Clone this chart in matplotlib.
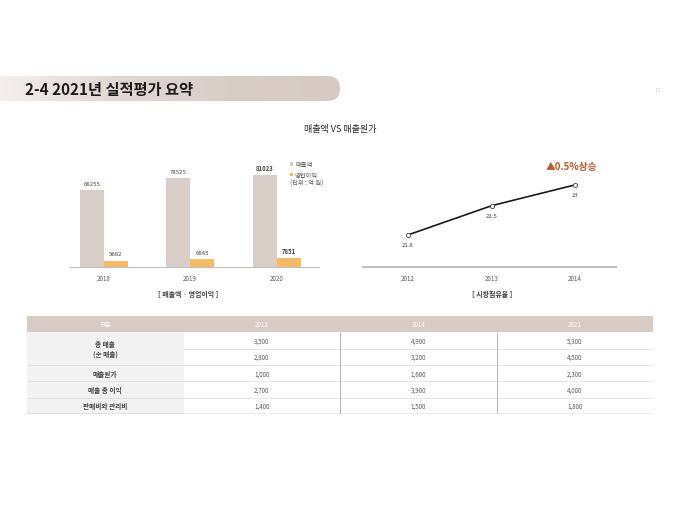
import numpy as np
import matplotlib
matplotlib.use("Agg")
import matplotlib.pyplot as plt
from matplotlib.patches import FancyBboxPatch, Rectangle
from matplotlib.colors import LinearSegmentedColormap

plt.rcParams['font.family'] = ['Noto Sans CJK KR', 'DejaVu Sans']

W, H = 680, 510

# bar chart data (억 원)
years_bar = ["2018", "2019", "2020"]
sales = [68255, 78525, 81023]
op_profit = [5682, 6845, 7851]

# market share
years_line = ["2012", "2013", "2014"]
share = [21.8, 22.5, 23]

# table
table_cols = ["구분", "2013", "2014", "2021"]
table_rows = ["총 매출\n(순 매출)", "매출원가", "매출 총 이익", "판매비와 관리비"]
table_vals = [
    ["3,500", "4,900", "5,300"],
    ["2,800", "3,200", "4,500"],
    ["1,000", "1,600", "2,300"],
    ["2,700", "3,900", "4,000"],
    ["1,400", "1,500", "1,800"],
]

TAUPE = "#d9cdc8"
ORANGE = "#f3bb66"
HEADER = "#d8cbc5"
GRAY_TXT = "#595959"
DARK_TXT = "#404040"


def rect(x0, y0, x1, y1):
    # pixel box -> figure fraction
    return [x0 / W, 1 - y1 / H, (x1 - x0) / W, (y1 - y0) / H]


fig = plt.figure(figsize=(6.8, 5.1), dpi=100)
bg = fig.add_axes([0, 0, 1, 1], zorder=0)
bg.axis("off")

# title band with gradient
cmap = LinearSegmentedColormap.from_list("band", ["#f4efed", "#e2d8d4", "#d9cdc8", "#d7cac5"])
band = FancyBboxPatch((-30, 77), 370, 25, boxstyle="round,pad=0,rounding_size=12.5",
                      fc="none", ec="none")
bg.add_patch(band)
im = bg.imshow(np.linspace(0, 1, 256).reshape(1, -1), extent=(0, 340, 102, 77),
               cmap=cmap, aspect="auto")
im.set_clip_path(band)
bg.set_xlim(0, W)
bg.set_ylim(H, 0)

bg.text(25, 90, "2-4 2021년 실적평가 요약", fontsize=11, fontweight="bold",
        va="center", color="#1a1a1a")
bg.text(655, 90, "13", fontsize=4, va="center", color="#d0d0d0")
bg.text(340, 130, "매출액 VS 매출원가", fontsize=6.5, ha="center", va="center", color="#262626")

# ---- bar chart
ax1 = fig.add_axes(rect(70, 155, 319, 268))
x = np.arange(len(years_bar))
bw = 0.277
ax1.bar(x - bw / 2, sales, bw, color=TAUPE, label="매출액")
ax1.bar(x + bw / 2, op_profit, bw, color=ORANGE, label="영업이익")
for i in range(len(x)):
    fw = "bold" if i == len(x) - 1 else "normal"
    ax1.annotate(str(sales[i]), (x[i] - bw / 2, sales[i]), xytext=(0, 3), textcoords="offset points",
                 ha="center", va="bottom", fontsize=4.3, color=DARK_TXT, fontweight=fw)
    ax1.annotate(str(op_profit[i]), (x[i] + bw / 2, op_profit[i]), xytext=(0, 3), textcoords="offset points",
                 ha="center", va="bottom", fontsize=4.3, color=DARK_TXT, fontweight=fw)
ax1.set_xlim(-0.39, 2.49)
ax1.set_ylim(0, 100000)
for s in ["top", "left", "right"]:
    ax1.spines[s].set_visible(False)
ax1.spines["bottom"].set_color("#bfbfbf")
ax1.spines["bottom"].set_linewidth(0.8)
ax1.set_yticks([])
ax1.set_xticks(x, years_bar)
ax1.tick_params(length=0, labelsize=4.5, colors=GRAY_TXT, pad=5)
ax1.patch.set_alpha(0)
leg = ax1.legend(loc="upper left", bbox_to_anchor=(290 / W, 1 - 161 / H), bbox_transform=fig.transFigure,
                 frameon=False, fontsize=4.5, handlelength=0.5, handleheight=0.5, handletextpad=0.3,
                 labelspacing=0.45, borderpad=0, borderaxespad=0)
for t in leg.get_texts():
    t.set_color(GRAY_TXT)
bg.text(290, 184, "(단위 : 억 원)", fontsize=4.5, va="center", color=GRAY_TXT)
bg.text(188, 295, "[ 매출액 · 영업이익 ]", fontsize=5, fontweight="bold", ha="center", va="center",
        color=DARK_TXT)

# ---- line chart
ax2 = fig.add_axes(rect(363, 160, 616, 268))
xl = np.arange(len(years_line))
ax2.plot(xl, share, color="#1a1a1a", lw=1.2, marker="o", ms=3, mfc="white", mec="#404040", mew=0.6)
for i in range(len(xl)):
    ax2.annotate(str(share[i]), (xl[i], share[i]), xytext=(0, -7.2), textcoords="offset points",
                 ha="center", va="center", fontsize=4.3, color=DARK_TXT)
ax2.set_xlim(-0.54, 2.49)
ax2.set_ylim(21.03, 23.62)
for s in ["top", "left", "right"]:
    ax2.spines[s].set_visible(False)
ax2.spines["bottom"].set_color("#bfbfbf")
ax2.spines["bottom"].set_linewidth(1.5)
ax2.set_yticks([])
ax2.set_xticks(xl, years_line)
ax2.tick_params(length=0, labelsize=4.5, colors=GRAY_TXT, pad=5)
ax2.patch.set_alpha(0)
bg.text(572, 167, "▲0.5%상승", fontsize=7, fontweight="bold", ha="center", va="center", color="#b85a2a")
bg.text(492, 295, "[ 시장점유율 ]", fontsize=5, fontweight="bold", ha="center", va="center", color=DARK_TXT)

# ---- table
ax3 = fig.add_axes(rect(27, 317, 653, 415))
ax3.set_xlim(0, 4)
ax3.set_ylim(6, 0)
ax3.axis("off")
ax3.add_patch(Rectangle((0, 0), 4, 1, fc=HEADER, ec="none"))
ax3.add_patch(Rectangle((0, 1), 1, 5, fc="#f2f2f2", ec="none"))
for c, name in enumerate(table_cols):
    ax3.text(c + 0.5, 0.5, name, ha="center", va="center", fontsize=4.5, color="white")
label_y = [2.0, 3.5, 4.5, 5.5]
for lbl, yy in zip(table_rows, label_y):
    ax3.text(0.5, yy, lbl, ha="center", va="center", fontsize=4.8, color=DARK_TXT,
             fontweight="bold", linespacing=1.5)
for r, row in enumerate(table_vals):
    for c, v in enumerate(row):
        ax3.text(c + 1.5, r + 1.5, v, ha="center", va="center", fontsize=4.5, color=GRAY_TXT)
ax3.hlines(2, 1, 4, color="#dcdcdc", lw=0.5)
ax3.hlines([3, 4, 5], 0, 4, color="#dcdcdc", lw=0.5)
ax3.hlines(6, 0, 4, color="#a6a6a6", lw=1)
ax3.vlines([2, 3], 1, 6, color="#a6a6a6", lw=0.6)

fig.savefig("out.png", dpi=100)
